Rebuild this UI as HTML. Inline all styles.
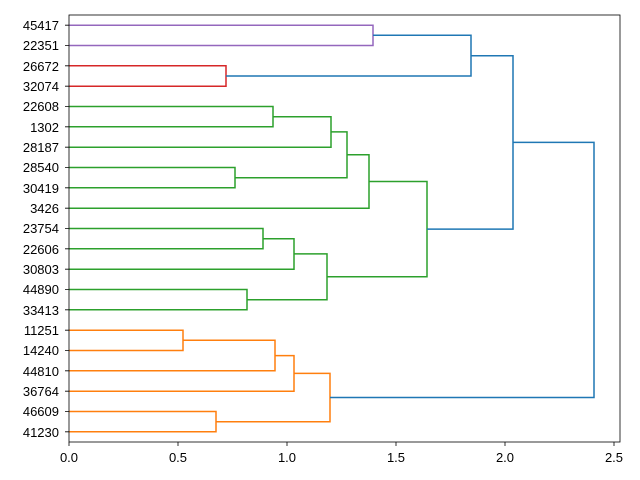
<!DOCTYPE html>
<html><head><style>body{margin:0;background:#fff}svg{display:block}text{font-family:"Liberation Sans",sans-serif;font-size:13px;fill:#000}</style></head><body>
<svg width="640" height="480" viewBox="0 0 640 480" xmlns="http://www.w3.org/2000/svg">
<g fill="none" stroke-width="1.5">
<g stroke="#9467bd"><path d="M69,25.2H373V45.5H69"/></g>
<g stroke="#d62728"><path d="M69,65.8H226V86.2H69"/></g>
<g stroke="#2ca02c">
<path d="M69,106.5H273V126.8H69"/>
<path d="M273,116.7H331V147.2H69"/>
<path d="M69,167.5H235V187.8H69"/>
<path d="M331,131.9H347V177.7H235"/>
<path d="M347,154.8H369V208.2H69"/>
<path d="M69,228.5H263V248.8H69"/>
<path d="M263,238.7H294V269.2H69"/>
<path d="M69,289.5H247V309.8H69"/>
<path d="M294,253.9H327V299.7H247"/>
<path d="M369,181.5H427V276.8H327"/>
</g>
<g stroke="#ff7f0e">
<path d="M69,330.2H183V350.5H69"/>
<path d="M183,340.3H275V370.8H69"/>
<path d="M275,355.6H294V391.2H69"/>
<path d="M69,411.5H216V431.8H69"/>
<path d="M294,373.4H330V421.7H216"/>
</g>
<g stroke="#1f77b4">
<path d="M373,35.3H471V76H226"/>
<path d="M471,55.7H513V229.1H427"/>
<path d="M513,142.4H594V397.5H330"/>
</g>
</g>
<rect x="69" y="15" width="551" height="427" fill="none" stroke="#000" stroke-width="0.8"/>
<g stroke="#000" stroke-width="0.8">
<path d="M69,442v4M178,442v4M287,442v4M396,442v4M505,442v4M614,442v4"/>
<path d="M65,25.2h4M65,45.5h4M65,65.8h4M65,86.2h4M65,106.5h4M65,126.8h4M65,147.2h4M65,167.5h4M65,187.8h4M65,208.2h4M65,228.5h4M65,248.8h4M65,269.2h4M65,289.5h4M65,309.8h4M65,330.2h4M65,350.5h4M65,370.8h4M65,391.2h4M65,411.5h4M65,431.8h4"/>
</g>
<g text-anchor="middle">
<text x="69" y="462">0.0</text><text x="178" y="462">0.5</text><text x="287" y="462">1.0</text><text x="396" y="462">1.5</text><text x="505" y="462">2.0</text><text x="614" y="462">2.5</text>
</g>
<g text-anchor="end">
<text x="59" y="30">45417</text><text x="59" y="50">22351</text><text x="59" y="71">26672</text><text x="59" y="91">32074</text><text x="59" y="111">22608</text><text x="59" y="132">1302</text><text x="59" y="152">28187</text><text x="59" y="172">28540</text><text x="59" y="193">30419</text><text x="59" y="213">3426</text><text x="59" y="233">23754</text><text x="59" y="254">22606</text><text x="59" y="274">30803</text><text x="59" y="294">44890</text><text x="59" y="315">33413</text><text x="59" y="335">11251</text><text x="59" y="355">14240</text><text x="59" y="376">44810</text><text x="59" y="396">36764</text><text x="59" y="416">46609</text><text x="59" y="437">41230</text>
</g>
</svg>
</body></html>
